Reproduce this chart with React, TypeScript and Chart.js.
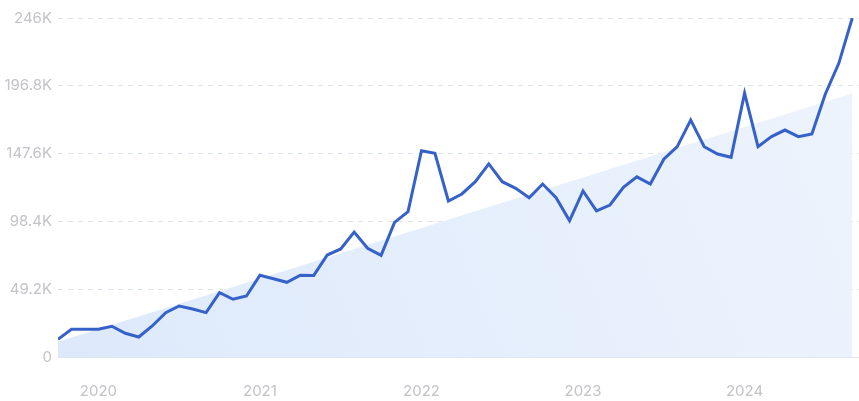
import React, { useEffect, useRef } from "react";
import { Chart, registerables } from "chart.js";

Chart.register(...registerables);

// Monthly points, Oct 2019 .. Sep 2024
const startYear = 2019;
const startMonth = 10; // October
const searchValues: number[] = [
  12800, 20100, 20100, 20100, 22300, 17200, 14500, 22500, 32200, 37000,
  34800, 32200, 46700, 41900, 44300, 59300, 56800, 54200, 59300, 59200,
  74000, 78400, 90700, 78900, 73800, 97700, 105500, 149700, 147800, 113200,
  118300, 127200, 140100, 127200, 122400, 115600, 125500, 115600, 98900, 120500,
  106000, 110300, 123100, 130700, 125500, 143500, 152600, 172000, 152600, 147300,
  144900, 191400, 152600, 159900, 164700, 159900, 161800, 190900, 213100, 246000,
];
const trendStart = 11100;
const trendEnd = 191400;
const yTicks: number[] = [0, 49200, 98400, 147600, 196800, 246000];
const yTickLabels: string[] = ["0", "49.2K", "98.4K", "147.6K", "196.8K", "246K"];
const yearLabels: string[] = ["2020", "2021", "2022", "2023", "2024"];

export default function App() {
  const canvasRef = useRef<HTMLCanvasElement | null>(null);

  useEffect(() => {
    document.body.style.margin = "0";
    const canvas = canvasRef.current;
    if (!canvas) return;

    const lineData = searchValues.map((v, i) => ({ x: i, y: v }));
    const lastIdx = searchValues.length - 1;
    const trendData = [
      { x: 0, y: trendStart },
      { x: lastIdx, y: trendEnd },
    ];
    // indices of January for each year label
    const yearIdx = yearLabels.map((y) => (Number(y) - startYear) * 12 + (1 - startMonth));

    const chart = new Chart(canvas, {
      type: "line",
      data: {
        datasets: [
          {
            data: lineData,
            borderColor: "#3561c9",
            borderWidth: 3,
            pointRadius: 0,
            tension: 0,
            fill: false,
            order: 0,
          },
          {
            data: trendData,
            borderWidth: 0,
            borderColor: "rgba(0,0,0,0)",
            pointRadius: 0,
            fill: "origin",
            backgroundColor: (ctx: any) => {
              const area = ctx.chart.chartArea;
              if (!area) return "#e5eefc";
              const g = ctx.chart.ctx.createLinearGradient(area.left, area.bottom, area.right, area.top);
              g.addColorStop(0, "#dde9fb");
              g.addColorStop(1, "#eef4fd");
              return g;
            },
            order: 1,
          },
        ],
      },
      options: {
        animation: false,
        responsive: false,
        maintainAspectRatio: false,
        layout: { padding: { top: 18, right: 0, left: 0, bottom: 0 } },
        plugins: { legend: { display: false }, tooltip: { enabled: false } },
        scales: {
          x: {
            type: "linear",
            min: 0,
            max: lastIdx + 0.5,
            afterBuildTicks: (scale: any) => {
              scale.ticks = yearIdx.map((v) => ({ value: v }));
            },
            afterFit: (scale: any) => {
              scale.height = 44;
            },
            grid: { display: false, drawTicks: false },
            border: { display: true, color: "#dfe6ef", width: 1 },
            ticks: {
              autoSkip: false,
              maxRotation: 0,
              padding: 25,
              color: "#c3c3c8",
              font: { family: "Inter", size: 15 },
              callback: (value: any) => {
                const k = yearIdx.indexOf(Number(value));
                return k >= 0 ? yearLabels[k] : "";
              },
            },
          },
          y: {
            min: 0,
            max: yTicks[yTicks.length - 1],
            afterBuildTicks: (scale: any) => {
              scale.ticks = yTicks.map((v) => ({ value: v }));
            },
            afterFit: (scale: any) => {
              scale.width = 58;
            },
            border: { display: false, dash: [5, 5] },
            grid: {
              drawTicks: false,
              color: (ctx: any) => (ctx.tick && ctx.tick.value === 0 ? "rgba(0,0,0,0)" : "#dde3ea"),
              lineWidth: 1,
            },
            ticks: {
              padding: 6,
              color: "#c3c3c8",
              font: { family: "Inter", size: 15 },
              callback: (value: any) => {
                const k = yTicks.indexOf(Number(value));
                return k >= 0 ? yTickLabels[k] : "";
              },
            },
          },
        },
      } as any,
    });
    return () => chart.destroy();
  }, []);

  return (
    <div style={{ width: 859, height: 401 }}>
      <canvas ref={canvasRef} width={859} height={401} style={{ display: "block", width: 859, height: 401 }} />
    </div>
  );
}
